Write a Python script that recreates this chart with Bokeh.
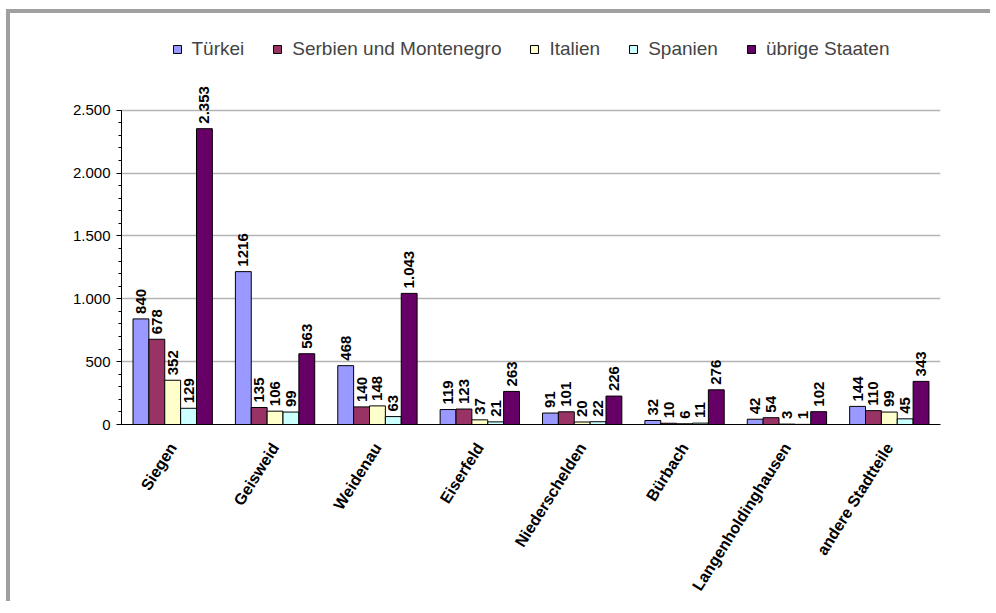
import math
from bokeh.plotting import figure
from bokeh.models import FactorRange, Range1d, FixedTicker, ColumnDataSource, Legend, LegendItem
from bokeh.transform import dodge
from bokeh.core.properties import value
from bokeh.embed import file_html
from bokeh.resources import INLINE

# ---- data ----
CATEGORIES = ["Siegen", "Geisweid", "Weidenau", "Eiserfeld", "Niederschelden",
              "Bürbach", "Langenholdinghausen", "andere Stadtteile"]
SERIES = ["Türkei", "Serbien und Montenegro", "Italien", "Spanien", "übrige Staaten"]

TUERKEI = [840, 1216, 468, 119, 91, 32, 42, 144]
SERBIEN = [678, 135, 140, 123, 101, 10, 54, 110]
ITALIEN = [352, 106, 148, 37, 20, 6, 3, 99]
SPANIEN = [129, 99, 63, 21, 22, 11, 1, 45]
UEBRIGE = [2353, 563, 1043, 263, 226, 276, 102, 343]

TUERKEI_LABELS = ["840", "1216", "468", "119", "91", "32", "42", "144"]
SERBIEN_LABELS = ["678", "135", "140", "123", "101", "10", "54", "110"]
ITALIEN_LABELS = ["352", "106", "148", "37", "20", "6", "3", "99"]
SPANIEN_LABELS = ["129", "99", "63", "21", "22", "11", "1", "45"]
UEBRIGE_LABELS = ["2.353", "563", "1.043", "263", "226", "276", "102", "343"]

Y_TICKS = [0, 500, 1000, 1500, 2000, 2500]
Y_TICK_LABELS = ["0", "500", "1.000", "1.500", "2.000", "2.500"]
Y_MINOR_TICKS = list(range(0, 2501, 100))

COLORS = ["#9999FF", "#993366", "#FFFFCC", "#CCFFFF", "#660066"]

FONT = "Liberation Sans"

p = figure(
    x_range=FactorRange(*CATEGORIES, range_padding=0),
    y_range=Range1d(0, 3134),
    width=984, height=592,
    output_backend="svg", toolbar_location=None,
    min_border_left=111, min_border_right=54, min_border_top=17, min_border_bottom=181,
)
p.margin = (9, 0, 0, 6)
p.styles = {"border-top": "4px solid #a0a0a0", "border-left": "4px solid #a0a0a0"}
p.outline_line_color = None
p.background_fill_color = "white"
p.border_fill_color = "white"

series_values = [TUERKEI, SERBIEN, ITALIEN, SPANIEN, UEBRIGE]
series_labels = [TUERKEI_LABELS, SERBIEN_LABELS, ITALIEN_LABELS, SPANIEN_LABELS, UEBRIGE_LABELS]
bw = 0.155
offsets = [-2 * bw, -bw, 0.0, bw, 2 * bw]

items = []
for name, vals, labs, col, off in zip(SERIES, series_values, series_labels, COLORS, offsets):
    src = ColumnDataSource(dict(cat=CATEGORIES, val=vals, lab=labs))
    r = p.vbar(x=dodge("cat", off, range=p.x_range), top="val", width=bw, source=src,
               fill_color=col, line_color="black", line_width=1)
    p.text(x=dodge("cat", off, range=p.x_range), y="val", text="lab", source=src,
           angle=math.pi / 2, text_align="left", text_baseline="middle",
           y_offset=-5, text_font=value(FONT), text_font_style="bold",
           text_font_size="15px", text_color="black")
    items.append(LegendItem(label=name, renderers=[r]))

legend = Legend(items=items, orientation="horizontal", location="top_center",
                label_text_font=FONT, label_text_font_size="19px",
                glyph_width=10, glyph_height=10, spacing=28, label_standoff=10,
                background_fill_alpha=0, border_line_color=None, margin=8, padding=4)
p.add_layout(legend, "center")

# y axis
p.yaxis.ticker = FixedTicker(ticks=Y_TICKS, minor_ticks=Y_MINOR_TICKS)
p.yaxis.major_label_overrides = {t: l for t, l in zip(Y_TICKS, Y_TICK_LABELS)}
p.yaxis.bounds = (0, 2500)
p.yaxis.major_tick_in = 0
p.yaxis.major_tick_out = 5
p.yaxis.minor_tick_in = 0
p.yaxis.minor_tick_out = 3
p.yaxis.axis_line_color = "black"
p.yaxis.major_label_text_font = FONT
p.yaxis.major_label_text_font_size = "15px"
p.yaxis.major_label_text_color = "black"
p.yaxis.major_label_standoff = 6

# x axis
p.xaxis.major_tick_line_color = None
p.xaxis.minor_tick_line_color = None
p.xaxis.axis_line_color = "black"
p.xaxis.major_label_orientation = 1.01
p.xaxis.major_label_text_font = FONT
p.xaxis.major_label_text_font_style = "bold"
p.xaxis.major_label_text_font_size = "16px"
p.xaxis.major_label_text_color = "black"
p.xaxis.major_label_standoff = 14

p.xgrid.grid_line_color = None
p.ygrid.grid_line_color = "#b4b4b4"
p.ygrid.grid_line_width = 1.5

open("out.html", "w").write(file_html(p, INLINE))
